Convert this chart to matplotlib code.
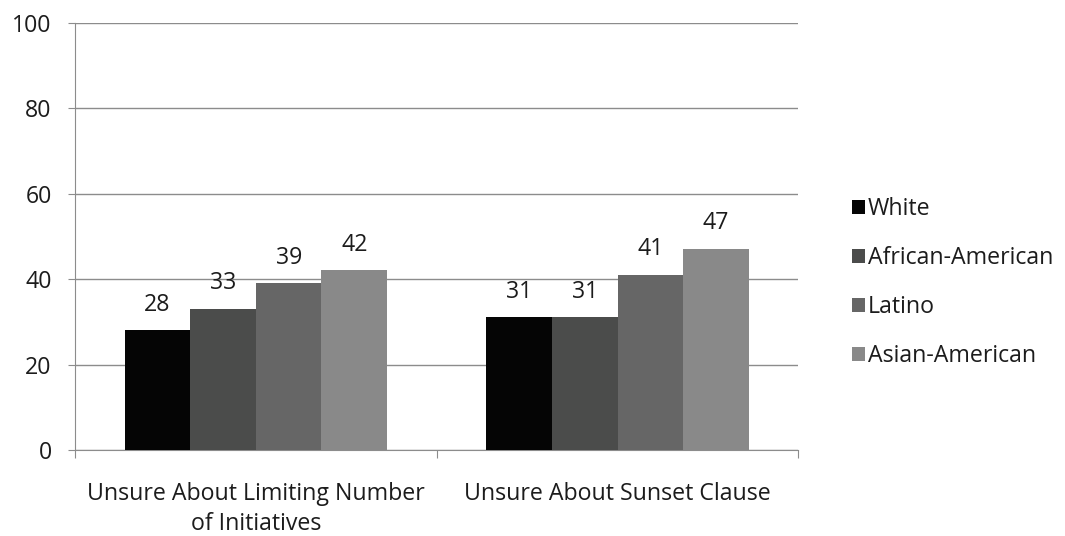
import matplotlib.pyplot as plt
import numpy as np

plt.rcParams['font.family'] = ['Open Sans', 'DejaVu Sans']

categories = ['Unsure About Limiting Number\nof Initiatives', 'Unsure About Sunset Clause']
groups = ['White', 'African-American', 'Latino', 'Asian-American']
white = [28, 31]
african_american = [33, 31]
latino = [39, 41]
asian_american = [42, 47]
yticks = [0, 20, 40, 60, 80, 100]

series = [white, african_american, latino, asian_american]
colors = ['#050505', '#4b4c4b', '#666666', '#898989']
fs = 16.7
text_color = '#1c1c1c'
grid_color = '#8c8c8c'

fig = plt.figure(figsize=(10.65, 5.36), dpi=100)
ax = fig.add_axes([0.0704, 0.1604, 0.6793, 0.7976])

x = np.arange(len(categories))
width = 0.1814
for i, (vals, name, c) in enumerate(zip(series, groups, colors)):
    pos = x + (i - 1.5) * width
    bars = ax.bar(pos, vals, width, color=c, label=name, zorder=3)
    for b, v in zip(bars, vals):
        ax.text(b.get_x() + b.get_width() / 2, v + 4.6, str(v),
                ha='center', va='baseline', fontsize=fs, color=text_color)

ax.set_xlim(-0.5, 1.5)
ax.set_ylim(0, 100)
ax.set_yticks(yticks)
ax.yaxis.grid(True, color=grid_color, linewidth=1, zorder=0)
ax.tick_params(axis='y', labelsize=fs, length=5.4, color=grid_color,
               labelcolor=text_color, pad=11.5)

# ticks at the category boundaries, labels centred under each group
ax.set_xticks([-0.5, 0.5, 1.5])
ax.set_xticklabels([])
ax.set_xticks(x, minor=True)
ax.set_xticklabels(categories, minor=True, fontsize=fs, color=text_color, linespacing=1.34)
ax.tick_params(axis='x', which='major', length=6, color=grid_color)
ax.tick_params(axis='x', which='minor', length=0, pad=23)

for s in ['top', 'right']:
    ax.spines[s].set_visible(False)
for s in ['left', 'bottom']:
    ax.spines[s].set_color(grid_color)

fig.legend(loc='center left', bbox_to_anchor=(0.7887, 0.473), frameon=False,
           borderpad=0, fontsize=fs, handlelength=0.56, handleheight=0.56,
           handletextpad=0.15, labelspacing=1.08, labelcolor=text_color)

fig.savefig('out.png', dpi=100)
